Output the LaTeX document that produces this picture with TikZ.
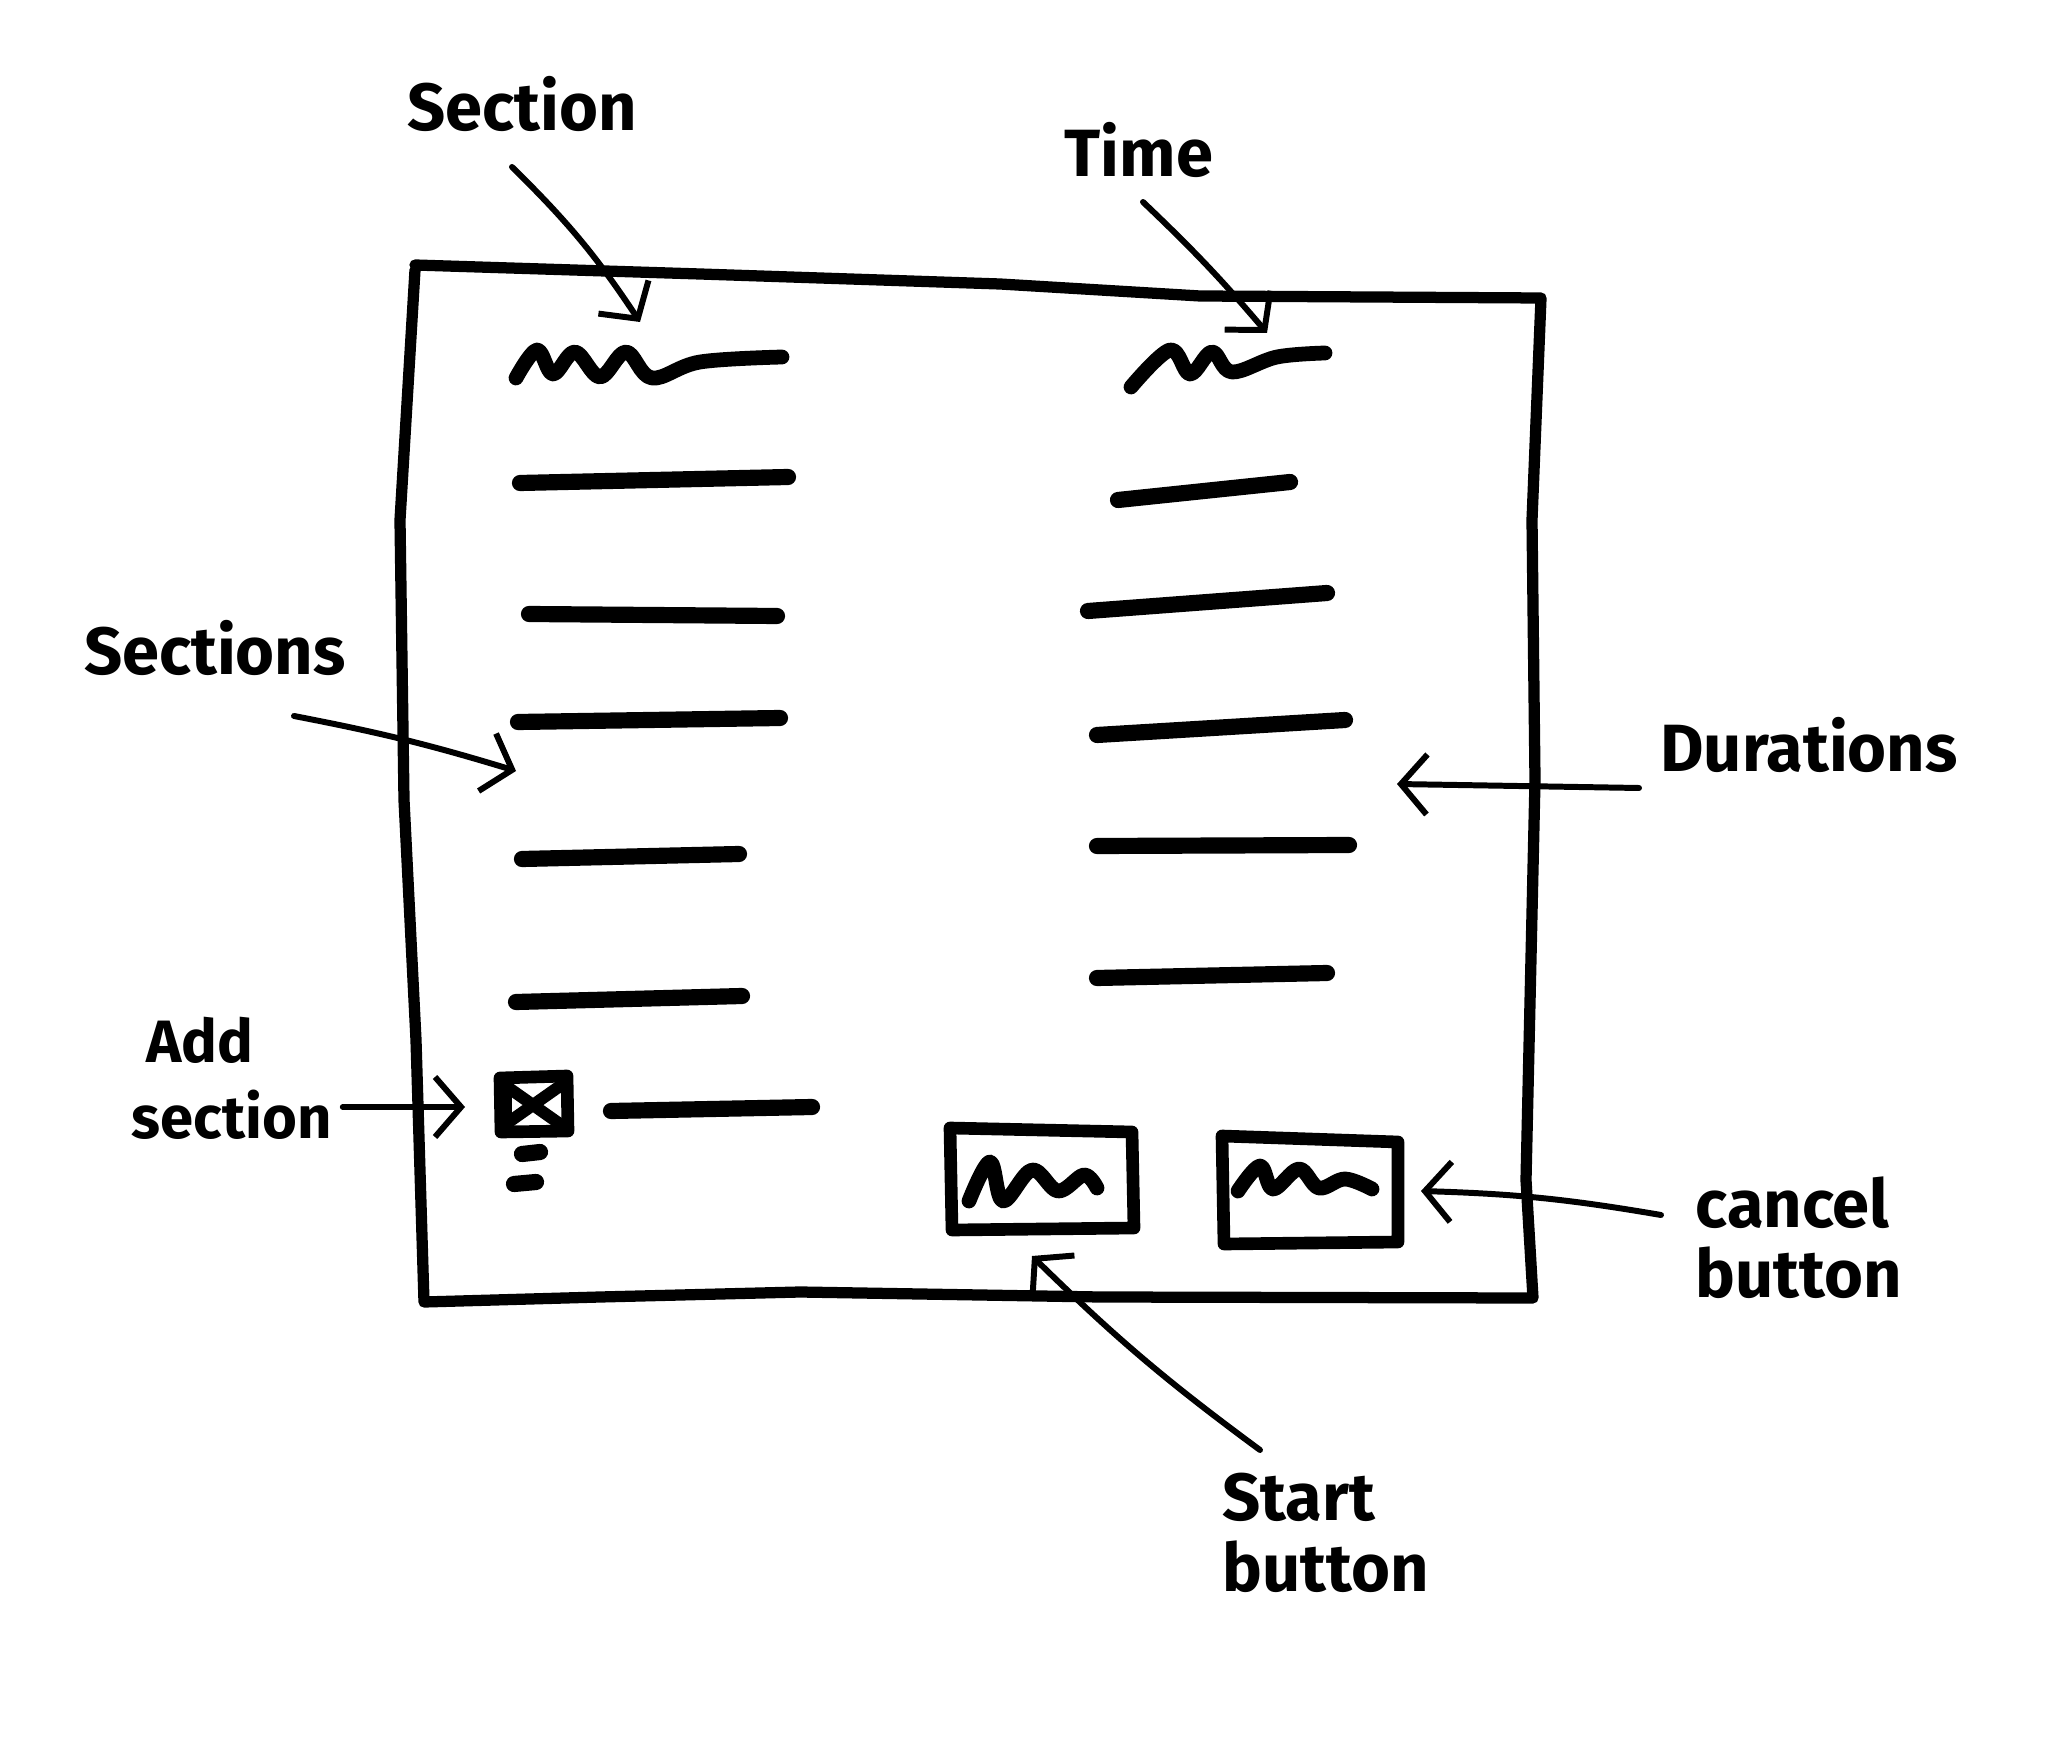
\documentclass[tikz,border=0pt]{standalone}
\usepackage{fontspec}
\setmainfont{Fira Sans}
\usetikzlibrary{arrows.meta}
\begin{document}
\begin{tikzpicture}[x=0.01cm,y=-0.01cm,
  frame/.style={line width=3.2pt,line cap=round,line join=round},
  row/.style={line width=4.6pt,line cap=round},
  squig/.style={line width=4.2pt,line cap=round,line join=round},
  btn/.style={line width=3.6pt,line cap=round,line join=round},
  arr/.style={line width=1.7pt,line cap=round,-{Straight Barb[length=2.6mm,width=6mm,line width=1.7pt]}},
  lbl/.style={font=\bfseries\fontsize{19}{23}\selectfont,inner sep=0pt}]
\useasboundingbox[fill=white] (0,0) rectangle (2048,1746);

% main frame
\draw[frame] (415,265) -- (700,274) -- (1000,284) -- (1200,296) -- (1541,298)
  -- (1532,520) -- (1535,780) -- (1526,1180) -- (1533,1298)
  -- (1100,1297) -- (800,1292) -- (600,1297) -- (424,1302)
  -- (416,1040) -- (404,800) -- (400,520) -- (415,270);

% header squiggles
\draw[squig] plot[smooth,tension=0.6] coordinates {(516,378) (537,350) (553,374) (575,352) (600,377) (626,352) (652,378) (700,362) (782,357)};
\coordinate (sechead) at (640,322);
\draw[squig] plot[smooth,tension=0.6] coordinates {(1131,387) (1170,350) (1190,374) (1212,352) (1232,372) (1277,357) (1325,353)};
\coordinate (timehead) at (1267,333);

% left column rows
\draw[row] (520,483) -- (788,477);
\draw[row] (529,614) -- (777,616);
\draw[row] (518,722) -- (780,718);
\draw[row] (522,859) -- (739,854);
\draw[row] (516,1002) -- (742,996);
\draw[row] (611,1111) -- (812,1107);
\coordinate (secrows) at (516,771);

% right column rows
\draw[row] (1118,500) -- (1290,482);
\draw[row] (1088,611) -- (1327,593);
\draw[row] (1097,735) -- (1345,720);
\draw[row] (1097,846) -- (1349,845);
\draw[row] (1097,978) -- (1327,973);
\coordinate (durrows) at (1397,784);

% add box
\draw[btn] (500,1078) -- (567,1076) -- (568,1131) -- (501,1132) -- cycle;
\draw[line width=3.4pt,line cap=round] (506,1086) -- (560,1124) (506,1124) -- (560,1086);
\draw[line width=3.4pt] (506,1090) -- (506,1120);
\coordinate (addbox) at (465,1107);
\draw[row] (522,1154) -- (540,1152);
\draw[row] (514,1184) -- (536,1182);

% buttons
\draw[btn] (950,1128) -- (1132,1132) -- (1134,1228) -- (952,1230) -- cycle;
\draw[squig] plot[smooth,tension=0.6] coordinates {(969,1201) (990,1162) (1003,1201) (1032,1170) (1058,1191) (1084,1175) (1097,1188)};
\coordinate (startbtn) at (1032,1256);
\draw[btn] (1222,1136) -- (1398,1142) -- (1398,1242) -- (1224,1244) -- cycle;
\draw[squig] plot[smooth,tension=0.6] coordinates {(1238,1191) (1260,1166) (1273,1189) (1299,1169) (1319,1188) (1345,1179) (1372,1189)};
\coordinate (cancelbtn) at (1421,1191);

% labels
\node[lbl] (lsection) at (522,104) {Section};
\node[lbl] (ltime) at (1139,150) {Time};
\node[lbl] (lsections) at (215,648) {Sections};
\node[lbl] (ldurations) at (1809,745) {Durations};
\node[lbl,anchor=base west,font=\bfseries\fontsize{17}{20}\selectfont] (ladd) at (146,1062) {Add};
\node[lbl,anchor=base west,font=\bfseries\fontsize{17}{20}\selectfont] (lsecadd) at (131,1138) {section};
\node[lbl,align=left,anchor=west,font=\bfseries\fontsize{19}{20}\selectfont] (lcancel) at (1695,1238) {cancel\\button};
\node[lbl,align=left,anchor=west,font=\bfseries\fontsize{19}{20}\selectfont] (lstart) at (1222,1533) {Start\\button};

% arrow start points (beside their labels)
\coordinate (s1) at (512,167);
\coordinate (s2) at (1143,202);
\coordinate (s3) at (294,716);
\coordinate (s4) at (1639,788);
\coordinate (s6) at (1661,1215);
\coordinate (s7) at (1260,1450);

% arrows
\draw[arr] (s1) to[bend left=6] (sechead);
\draw[arr] (s2) to[bend left=3] (timehead);
\draw[arr] (s3) to[bend left=3] (secrows);
\draw[arr] (s4) -- (durrows);
\draw[arr] ([xshift=3pt]lsecadd.east |- addbox) -- (addbox);
\draw[arr] (s6) to[bend right=4] (cancelbtn);
\draw[arr] (s7) to[bend left=4] (startbtn);
\end{tikzpicture}
\end{document}
